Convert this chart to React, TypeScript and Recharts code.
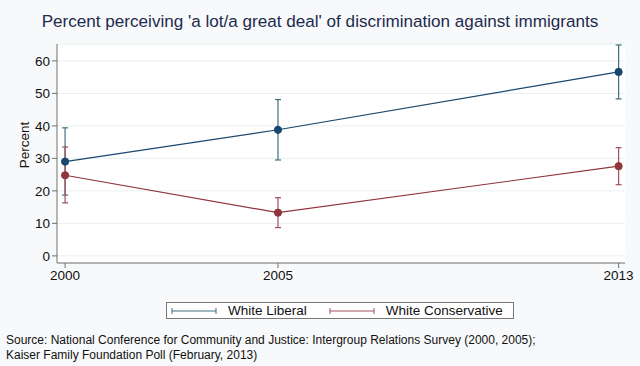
import React from 'react'
import {
  ComposedChart, Line, ErrorBar, XAxis, YAxis, CartesianGrid,
} from 'recharts'

const years = [2000, 2005, 2013]
const liberal = [29.0, 38.8, 56.6]
const liberalLow = [18.7, 29.5, 48.3]
const liberalHigh = [39.4, 48.1, 64.9]
const conservative = [24.8, 13.3, 27.6]
const conservativeLow = [16.3, 8.7, 21.9]
const conservativeHigh = [33.5, 17.9, 33.3]
const yTicks = [0, 10, 20, 30, 40, 50, 60]

const LIB = '#1a476f'
const LIB_CI = '#3f6f7e'
const CON = '#90353b'
const CON_CI = '#a0505a'
const FONT = '"Liberation Sans", Arial, Helvetica, sans-serif'

const data = years.map((year, i) => ({
  year,
  liberal: liberal[i],
  liberalErr: [liberal[i] - liberalLow[i], liberalHigh[i] - liberal[i]],
  conservative: conservative[i],
  conservativeErr: [conservative[i] - conservativeLow[i], conservativeHigh[i] - conservative[i]],
}))

function LegendKey({ color }: { color: string }) {
  return (
    <svg width={46} height={10} style={{ display: 'block' }}>
      <line x1={1} y1={5} x2={45} y2={5} stroke={color} strokeWidth={1} />
      <line x1={1} y1={2} x2={1} y2={8} stroke={color} strokeWidth={1} />
      <line x1={45} y1={2} x2={45} y2={8} stroke={color} strokeWidth={1} />
    </svg>
  )
}

export default function App() {
  return (
    <div style={{
      position: 'absolute', left: 0, top: 0, width: 640, height: 366,
      background: '#f8f9fa', fontFamily: FONT, overflow: 'hidden',
    }}>
      <div style={{
        position: 'absolute', left: 0, top: 10, width: 640, textAlign: 'center',
        fontSize: 17.1, color: '#1c2a4f', lineHeight: '24px',
      }}>
        Percent perceiving 'a lot/a great deal' of discrimination against immigrants
      </div>

      <ComposedChart
        width={640}
        height={366}
        data={data}
        margin={{ top: 44, right: 15, bottom: 73, left: 0 }}
        style={{ position: 'absolute', left: 0, top: 0 }}
      >
        <CartesianGrid horizontal vertical={false} stroke="#e9eff2" fill="#ffffff" />
        <XAxis
          dataKey="year"
          type="number"
          domain={[1999.81, 2013.15]}
          ticks={years}
          allowDataOverflow
          height={30}
          tick={{ fill: '#111', fontSize: 13.5, fontFamily: FONT }}
          tickSize={5}
          tickMargin={2}
          stroke="#707070"
        />
        <YAxis
          type="number"
          domain={[-2.2, 65.2]}
          ticks={yTicks}
          allowDataOverflow
          width={57}
          tick={{ fill: '#111', fontSize: 13.5, fontFamily: FONT }}
          tickSize={5}
          tickMargin={2}
          stroke="#707070"
          label={{
            content: () => (
              <text
                x={24}
                y={145}
                transform="rotate(-90, 24, 145)"
                textAnchor="middle"
                dominantBaseline="central"
                fontSize={13.5}
                fontFamily={FONT}
                fill="#111"
              >
                Percent
              </text>
            ),
          }}
        />
        <Line
          dataKey="liberal"
          stroke={LIB}
          strokeWidth={1.2}
          dot={{ r: 3.6, fill: LIB, stroke: LIB, strokeWidth: 1 }}
          isAnimationActive={false}
        >
          <ErrorBar dataKey="liberalErr" direction="y" width={3} stroke={LIB_CI} strokeWidth={1.2} isAnimationActive={false} />
        </Line>
        <Line
          dataKey="conservative"
          stroke={CON}
          strokeWidth={1.2}
          dot={{ r: 3.6, fill: CON, stroke: CON, strokeWidth: 1 }}
          isAnimationActive={false}
        >
          <ErrorBar dataKey="conservativeErr" direction="y" width={3} stroke={CON_CI} strokeWidth={1.2} isAnimationActive={false} />
        </Line>
      </ComposedChart>

      <div style={{
        position: 'absolute', left: 166, top: 302, width: 346, height: 15,
        border: '1px solid #777', background: '#fff', display: 'flex', alignItems: 'center',
        fontSize: 13.5, color: '#111', whiteSpace: 'nowrap',
      }}>
        <div style={{ marginLeft: 4 }}><LegendKey color={LIB_CI} /></div>
        <span style={{ marginLeft: 11 }}>White Liberal</span>
        <div style={{ marginLeft: 22 }}><LegendKey color={CON_CI} /></div>
        <span style={{ marginLeft: 11 }}>White Conservative</span>
      </div>

      <div style={{
        position: 'absolute', left: 6, top: 333, fontSize: 12, lineHeight: '14.5px', color: '#111',
      }}>
        <div>Source: National Conference for Community and Justice: Intergroup Relations Survey (2000, 2005);</div>
        <div>Kaiser Family Foundation Poll (February, 2013)</div>
      </div>
    </div>
  )
}
